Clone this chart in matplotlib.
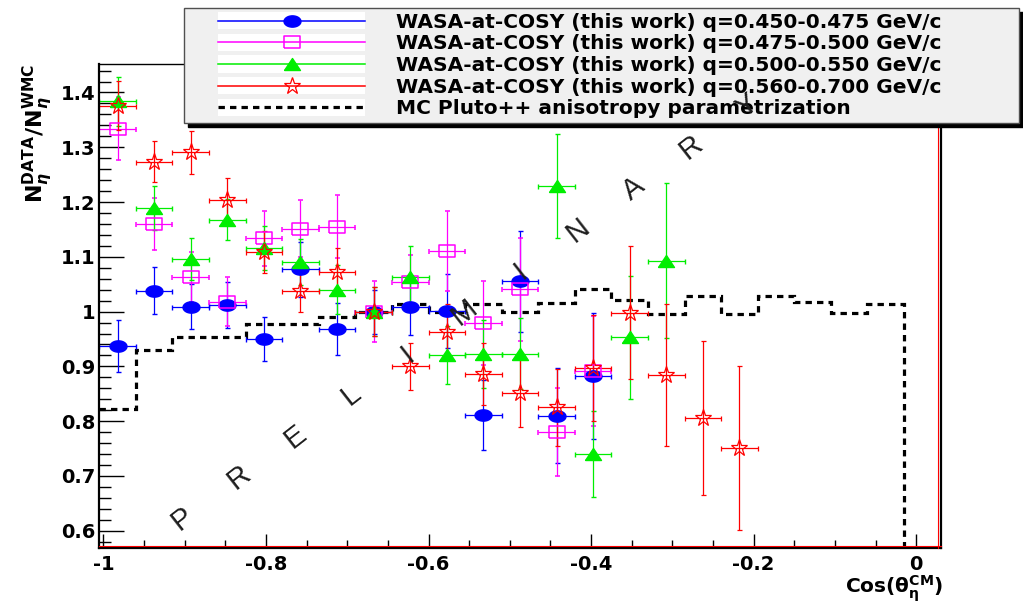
import numpy as np
import matplotlib
matplotlib.use("Agg")
import matplotlib.pyplot as plt
from matplotlib.lines import Line2D
from matplotlib.patches import Rectangle
from matplotlib.legend_handler import HandlerLine2D
from matplotlib.ticker import MultipleLocator, FuncFormatter

# --- data ------------------------------------------------------------------
# bin centres of cos(theta_eta^CM), bin half width
cos_centres = [-0.9825, -0.9375, -0.8925, -0.8475, -0.8025, -0.7575, -0.7125,
               -0.6675, -0.6225, -0.5775, -0.5325, -0.4875, -0.4425, -0.3975,
               -0.3525, -0.3075, -0.2625, -0.2175]
bin_half = 0.0225

q1_ratio = [0.937, 1.038, 1.009, 1.012, 0.950, 1.077, 0.968, 1.000, 1.008,
            1.001, 0.811, 1.055, 0.810, 0.882]
q1_err = [0.048, 0.043, 0.041, 0.042, 0.041, 0.050, 0.047, 0.040, 0.050,
          0.068, 0.064, 0.092, 0.087, 0.115]

q2_ratio = [1.334, 1.160, 1.063, 1.018, 1.134, 1.151, 1.155, 1.000, 1.054,
            1.111, 0.979, 1.041, 0.780, 0.892]
q2_err = [0.058, 0.048, 0.045, 0.045, 0.050, 0.052, 0.057, 0.056, 0.050,
          0.073, 0.076, 0.094, 0.080, 0.100]

q3_ratio = [1.384, 1.189, 1.096, 1.168, 1.116, 1.090, 1.040, 1.000, 1.064,
            0.920, 0.923, 0.923, 1.230, 0.740, 0.953, 1.093]
q3_err = [0.045, 0.040, 0.038, 0.038, 0.040, 0.042, 0.045, 0.045, 0.055,
          0.053, 0.062, 0.065, 0.095, 0.078, 0.112, 0.142]

q4_ratio = [1.376, 1.274, 1.291, 1.204, 1.109, 1.038, 1.073, 1.000, 0.900,
            0.963, 0.886, 0.852, 0.825, 0.897, 0.998, 0.884, 0.806, 0.751]
q4_err = [0.045, 0.038, 0.039, 0.039, 0.038, 0.038, 0.043, 0.044, 0.043,
          0.050, 0.057, 0.062, 0.070, 0.096, 0.121, 0.129, 0.141, 0.149]

# MC Pluto++ anisotropy histogram
mc_edges = [-1.005, -0.96, -0.915, -0.87, -0.825, -0.78, -0.735, -0.69,
            -0.645, -0.6, -0.555, -0.51, -0.465, -0.42, -0.375, -0.33,
            -0.285, -0.24, -0.195, -0.15, -0.105, -0.06, -0.015, 0.03]
mc_values = [0.823, 0.930, 0.953, 0.953, 0.977, 0.977, 0.991, 1.000, 1.013,
             1.000, 1.013, 1.000, 1.015, 1.041, 1.021, 0.996, 1.028, 0.995,
             1.028, 1.018, 0.997, 1.013, 0.0]

labels = ["WASA-at-COSY (this work) q=0.450-0.475 GeV/c",
          "WASA-at-COSY (this work) q=0.475-0.500 GeV/c",
          "WASA-at-COSY (this work) q=0.500-0.550 GeV/c",
          "WASA-at-COSY (this work) q=0.560-0.700 GeV/c",
          "MC Pluto++ anisotropy parametrization"]

# --- style ------------------------------------------------------------------
plt.rcParams["font.family"] = ["DejaVu Sans"]
plt.rcParams["font.weight"] = "bold"
plt.rcParams["mathtext.fontset"] = "dejavusans"

t = np.linspace(0, 2 * np.pi, 41)
ellipse = np.column_stack([1.5 * np.cos(t), np.sin(t)])   # stretched circle
rect = [(-1.4, -1), (1.4, -1), (1.4, 1), (-1.4, 1), (-1.4, -1)]
tri = [(-1.33, -1), (1.33, -1), (0, 1), (-1.33, -1)]

styles = [
    dict(color="#0000ff", marker=ellipse, ms=12.2, mfc="#0000ff", mec="#0000ff", mew=1.0),
    dict(color="#ff00ff", marker=rect, ms=12.2, mfc="none", mec="#ff00ff", mew=1.1),
    dict(color="#00ee00", marker=tri, ms=11.5, mfc="#00ee00", mec="#00ee00", mew=1.0),
    dict(color="#ff0000", marker="*", ms=12.5, mfc="none", mec="#ff0000", mew=0.9),
]
mc_ls = (0, (2.0, 1.6))


class BoxedLineHandler(HandlerLine2D):
    """legend sample on a white strip, shifted right like ROOT does"""
    def __init__(self, offset=1.45, box_h=12.5, **kw):
        super().__init__(**kw)
        self.offset = offset
        self.box_h = box_h

    def create_artists(self, legend, orig_handle, xdescent, ydescent,
                       width, height, fontsize, trans):
        off = self.offset * fontsize
        yc = (height - ydescent) / 2
        box = Rectangle((-xdescent + off, yc - self.box_h / 2), width - off,
                        self.box_h, facecolor="white", edgecolor="none",
                        transform=trans)
        arts = super().create_artists(legend, orig_handle, xdescent - off,
                                      ydescent, width - off, height,
                                      fontsize, trans)
        return [box] + arts


fig = plt.figure(figsize=(10.23, 6.02), dpi=100)
ax = fig.add_axes([0.0971, 0.0902, 0.8223, 0.8035])

ax.stairs(mc_values, mc_edges, baseline=None, color="black", lw=2.3,
          linestyle=mc_ls, zorder=1.5)

series = [(q1_ratio, q1_err), (q2_ratio, q2_err), (q3_ratio, q3_err), (q4_ratio, q4_err)]
for (vals, errs), st in zip(series, styles):
    n = len(vals)
    ax.errorbar(cos_centres[:n], vals, yerr=errs, xerr=bin_half, ls="none",
                color=st["color"], ecolor=st["color"], elinewidth=0.9,
                capsize=1.8, capthick=0.9, marker=st["marker"], ms=st["ms"],
                mfc=st["mfc"], mec=st["mec"], mew=st["mew"], zorder=2)

ax.set_xlim(-1.005, 0.03)
ax.set_ylim(0.569, 1.452)

fmt = FuncFormatter(lambda v, p: f"{round(v, 3):g}")
ax.xaxis.set_major_locator(MultipleLocator(0.2))
ax.xaxis.set_minor_locator(MultipleLocator(0.05))
ax.yaxis.set_major_locator(MultipleLocator(0.1))
ax.yaxis.set_minor_locator(MultipleLocator(0.02))
ax.xaxis.set_major_formatter(fmt)
ax.yaxis.set_major_formatter(fmt)
ax.tick_params(axis="y", which="major", direction="in", length=18, width=1, pad=3, labelsize=14)
ax.tick_params(axis="y", which="minor", direction="in", length=8.5, width=1)
ax.tick_params(axis="x", which="major", direction="in", length=10, width=1, pad=5, labelsize=14)
ax.tick_params(axis="x", which="minor", direction="in", length=5.5, width=1)

for side in ["left", "bottom", "right"]:
    ax.spines[side].set_linewidth(1.6)
ax.spines["top"].set_linewidth(1.0)
# thin red rim along bottom and right frame
ax.plot([0, 1], [0.003, 0.003], transform=ax.transAxes, color="red", lw=0.8, clip_on=False, zorder=4)
ax.plot([0.997, 0.997], [0, 1], transform=ax.transAxes, color="red", lw=0.8, clip_on=False, zorder=4)

ax.set_xlabel(r"$\mathbf{Cos(}\mathrm{\theta}_{\mathrm{\eta}}^{\mathbf{CM}}\mathbf{)}$",
              fontsize=14.5, ha="right")
ax.xaxis.set_label_coords(1.003, -0.053)
ax.set_ylabel(r"$\mathbf{N}_{\eta}^{\mathbf{DATA}}\mathbf{/N}_{\eta}^{\mathbf{WMC}}$",
              fontsize=16, loc="top")
ax.yaxis.set_label_coords(-0.053, 1.0)

# legend
handles = [Line2D([], [], lw=1.1, **st) for st in styles]
handles.append(Line2D([], [], color="black", lw=2.3, linestyle=mc_ls))
W, H = 1023, 602
leg = ax.legend(handles, labels, handler_map={Line2D: BoxedLineHandler(numpoints=1)},
                loc="upper left", bbox_to_anchor=(184 / W, 0, 835 / W, 1 - 8 / H),
                bbox_transform=fig.transFigure, mode="expand", borderaxespad=0,
                borderpad=0.24, handlelength=8.75, handletextpad=1.55,
                labelspacing=0.13, fontsize=14.5, fancybox=False,
                facecolor="#f0f0f0", edgecolor="#505050", framealpha=1,
                shadow={"ox": 3, "oy": -3, "color": "black", "alpha": 1})
leg.get_frame().set_linewidth(1.0)

# PRELIMINARY watermark, letters spread on a diagonal
x0, y0, dx, dy = 182, 519, 56.5, -41.3
for i, ch in enumerate("PRELIMINARY"):
    fig.text((x0 + i * dx) / W, 1 - (y0 + i * dy) / H, ch, rotation=38,
             ha="center", va="center", fontsize=21, color="#1e1e1e",
             fontweight="normal", family="Liberation Sans", zorder=10)

fig.savefig("out.png", dpi=100)
